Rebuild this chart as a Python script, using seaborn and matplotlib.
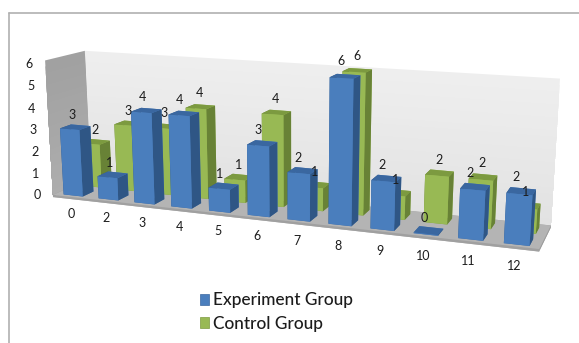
import numpy as np
import matplotlib
matplotlib.use("Agg")
import matplotlib.pyplot as plt
import seaborn as sns
from matplotlib.lines import Line2D
from matplotlib.patches import Patch
from mpl_toolkits.mplot3d.art3d import Poly3DCollection

categories = ["0", "2", "3", "4", "5", "6", "7", "8", "9", "10", "11", "12"]
experiment_group = [3, 1, 4, 4, 1, 3, 2, 6, 2, 0, 2, 2]
control_group = [2, 3, 3, 4, 1, 4, 1, 6, 1, 2, 2, 1]
value_ticks = [0, 1, 2, 3, 4, 5, 6]

WIDTH, HEIGHT = 579, 343

sns.set_theme(style="white", font="Lato")
blue_faces = sns.color_palette(["#4A7EBD", "#3A67A0", "#2F5685"])
green_faces = sns.color_palette(["#98B954", "#7C9A40", "#688236"])

# Scene box: x spans the categories, y the two series rows, z the value scale.
X0, X1 = -0.5, len(categories) - 0.5
Y0, Y1 = 0.0, 2.0
Z0, Z1 = 0.0, 6.0
BAR_W, BAR_D = 0.55, 0.56
ROW_FRONT, ROW_BACK = 0.15, 1.15

# Camera calibration: scene points and where they land on the canvas (pixels, y down).
left_edge = lambda i: i - BAR_W / 2
calibration = [
    ((X0, Y0, Z0), (52, 195)),
    ((X0, Y1, Z0), (88, 184)),
    ((X1, Y0, Z0), (540, 253)),
    ((X1, Y1, Z0), (550, 223)),
    ((X0, Y0, Z1), (42, 62)),
    ((X0, Y1, Z1), (87, 50)),
    ((X1, Y1, Z1), (560, 79)),
    ((left_edge(0), ROW_FRONT, 0), (65, 193)),
    ((left_edge(1), ROW_FRONT, 0), (100, 197)),
    ((left_edge(2), ROW_FRONT, 0), (135, 201)),
    ((left_edge(3), ROW_FRONT, 0), (172, 205)),
    ((left_edge(4), ROW_FRONT, 0), (209, 210)),
    ((left_edge(5), ROW_FRONT, 0), (247, 214)),
    ((left_edge(7), ROW_FRONT, 0), (328, 223)),
    ((left_edge(8), ROW_FRONT, 0), (370, 228)),
    ((left_edge(10), ROW_FRONT, 0), (458, 238)),
    ((left_edge(11), ROW_FRONT, 0), (504, 245)),
    ((left_edge(0), ROW_FRONT, 3), (61, 128)),
    ((left_edge(2), ROW_FRONT, 4), (131, 112)),
    ((left_edge(7), ROW_FRONT, 6), (329, 78)),
    ((left_edge(10), ROW_FRONT, 2), (460, 189)),
    ((left_edge(11), ROW_FRONT, 2), (506, 195)),
    ((left_edge(9), ROW_BACK, 0), (425, 220)),
    ((left_edge(9), ROW_BACK, 2), (425, 173)),
    ((left_edge(5), ROW_BACK, 4), (262, 112)),
    ((left_edge(3), ROW_BACK, 4), (187, 106)),
]


def solve_camera(pairs):
    rows = []
    for (x, y, z), (u, v) in pairs:
        rows.append([x, y, z, 1, 0, 0, 0, 0, -u * x, -u * y, -u * z, -u])
        rows.append([0, 0, 0, 0, x, y, z, 1, -v * x, -v * y, -v * z, -v])
    _, _, vt = np.linalg.svd(np.array(rows, float))
    cam = vt[-1].reshape(3, 4)
    centre = cam[2] @ np.array([5.5, 1.0, 3.0, 1.0])
    return cam / centre


camera = solve_camera(calibration)


def to_pixels(x, y, z):
    u, v, w = camera @ np.array([x, y, z, 1.0])
    return u / w, v / w


fig = plt.figure(figsize=(WIDTH / 100, HEIGHT / 100), dpi=100, facecolor="white")
ax = fig.add_axes([0, 0, 1, 1], projection="3d", computed_zorder=False)
ax.set_axis_off()
ax.set_facecolor("none")
ax.apply_aspect = lambda position=None: None


def scene_projection():
    to_display = np.array([[1, 0, 0], [0, -1, HEIGHT], [0, 0, 1]], float)
    to_view = ax.transData.inverted().get_matrix()
    plane = to_view @ to_display @ camera
    depth = np.array([-0.01, 0.1, -0.01, 0.0])
    return np.vstack([plane[0], plane[1], depth, plane[2]])


ax.get_proj = scene_projection


def add_box(x, y, z, dx, dy, dz, front, top, side, order):
    faces = [top, top, front, front, side, side]
    box = ax.bar3d(x, y, z, dx, dy, dz, color=faces, shade=False,
                   edgecolor="none", linewidth=0)
    box.set_zorder(order)
    return box


def add_wall(corners, tone, order):
    wall = Poly3DCollection([corners], facecolors=[(tone, tone, tone)],
                            edgecolors="none", linewidths=0)
    wall.set_zorder(order)
    ax.add_collection3d(wall)


# Walls get vertical shading: tall panels first, shorter darker ones laid over them.
shade_steps = np.linspace(1, 0, 24)[:-1]
for step, level in enumerate(shade_steps):
    zh = Z0 + level * Z1
    add_wall([(X0, Y1, Z0), (X1, Y1, Z0), (X1, Y1, zh), (X0, Y1, zh)],
             0.885 + 0.05 * level, 1 + step / 100)
    add_wall([(X0, Y0, Z0), (X0, Y1, Z0), (X0, Y1, zh), (X0, Y0, zh)],
             0.68 - 0.05 * level, 1 + step / 100)
add_box(X0, Y0, -0.1, X1 - X0, Y1 - Y0, 0.1, "#A0A0A0", "#B4B4B4", "#9A9A9A", 2)

MIN_H = 0.03
for row_y, values, faces, base in ((ROW_BACK, control_group, green_faces, 10),
                                   (ROW_FRONT, experiment_group, blue_faces, 40)):
    for i, value in enumerate(values):
        add_box(left_edge(i), row_y, 0, BAR_W, BAR_D, max(value, MIN_H),
                faces[0], faces[1], faces[2], base + i)


def scene_text(x, y, z, text):
    u, v = to_pixels(x, y, z)
    fig.text(u / WIDTH, 1 - v / HEIGHT, text, ha="center", va="center",
             fontsize=9, color="#1c1c1c", zorder=5)


# Value labels sit just above the front edge of each bar, drifting slightly with depth.
for i, value in enumerate(control_group):
    scene_text(i + 0.15 - 0.013 * i, ROW_BACK, value + 0.67, str(value))
for i, value in enumerate(experiment_group):
    scene_text(i + 0.08 - 0.015 * i, ROW_FRONT, value + 0.65, str(value))

for tick in value_ticks:
    scene_text(X0 - 0.46, Y0, tick * 0.98 - 0.08, str(tick))

for i, name in enumerate(categories):
    scene_text(i, Y0, -0.8, name)

handles = [Patch(facecolor=blue_faces[0], edgecolor="#3A67A0", linewidth=0.5, label="Experiment Group"),
           Patch(facecolor=green_faces[0], edgecolor="#7C9A40", linewidth=0.5, label="Control Group")]
fig.legend(handles=handles, loc="upper left", bbox_to_anchor=(184 / WIDTH, 1 - 277 / HEIGHT),
           frameon=False, prop={"size": 12.4, "weight": "medium"}, handlelength=0.55, handleheight=0.55,
           handletextpad=0.26, labelspacing=0.42, labelcolor="#1c1c1c")

# Thin chart border along the top and left edges.
border = "#b0b0b0"
fig.add_artist(Line2D([8.5 / WIDTH, 1], [1 - 12.5 / HEIGHT] * 2, color=border, lw=1.2))
fig.add_artist(Line2D([8.5 / WIDTH] * 2, [0, 1 - 12.5 / HEIGHT], color=border, lw=1.2))

fig.savefig("out.png", dpi=100, facecolor="white")
